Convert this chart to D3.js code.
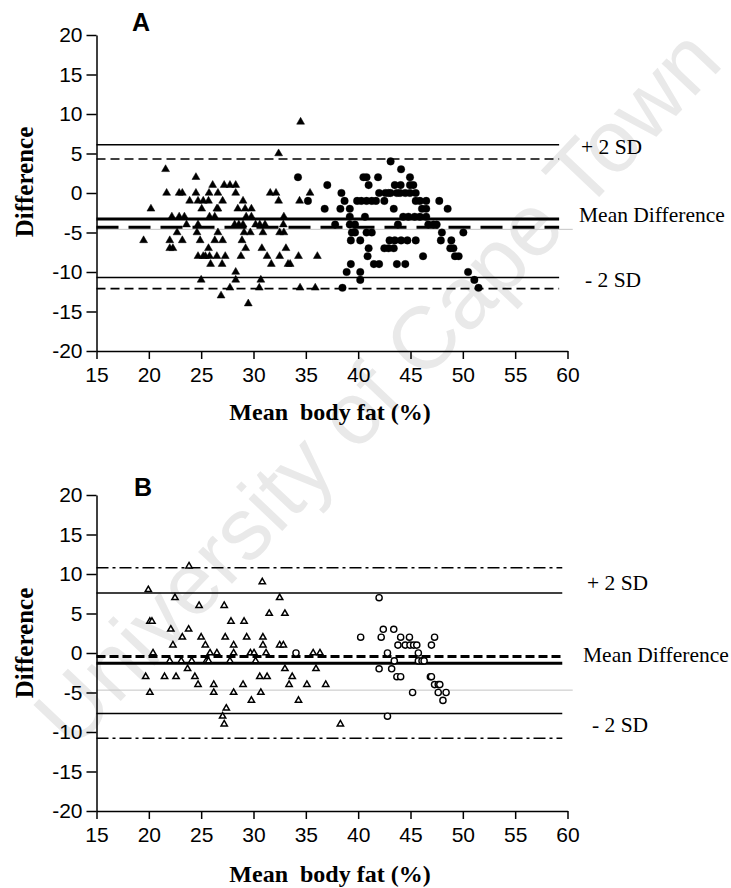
<!DOCTYPE html>
<html>
<head>
<meta charset="utf-8">
<script src="https://cdn.jsdelivr.net/npm/d3@7"></script>
<style>
  html, body { margin: 0; padding: 0; background: #fff; }
  svg { display: block; }
</style>
</head>
<body>
<script>
// ---------------- DATA ----------------
const xTicks = [15, 20, 25, 30, 35, 40, 45, 50, 55, 60];
const yTicks = [-20, -15, -10, -5, 0, 5, 10, 15, 20];
const panelLetters = ["A", "B"];
const xTitle = "Mean  body fat (%)";
const yTitle = "Difference";
const limitLabels = ["+ 2 SD", "Mean Difference", "- 2 SD"];
const watermark = "University of Cape Town";

// Panel A, filled triangles
const aTriX = [34.5, 32.4, 21.6, 24.5,
  26.1, 27.2, 27.75, 28.3,
  21.7, 22.9, 23.2, 24.5, 25.75, 26.6, 28.3, 31.6, 32.15, 35.4,
  23.9, 24.7, 25.2, 25.7, 27.05, 29.0, 32.4, 34.4,
  20.2, 25.05, 26.5, 26.6, 28.5, 29.2, 29.8,
  22.2, 22.9, 23.4, 25.8, 26.3, 29.3, 29.8, 32.9,
  23.6, 24.7, 28.2, 28.6, 29.0, 30.2, 30.6, 31.1, 32.85,
  22.7, 24.6, 26.6, 29.1, 29.7, 30.9, 32.5, 32.9,
  19.5, 22.0, 23.2, 24.9, 26.3, 27.05, 28.9,
  22.0, 22.3, 25.7, 29.25, 30.8, 33.1,
  24.7, 25.2, 25.4, 25.8, 26.5, 27.3, 28.8, 31.3, 32.5, 34.3, 36.1,
  25.9, 27.0, 31.7, 33.3, 33.5,
  28.3,
  25.0, 28.3, 30.7,
  27.75, 30.55, 34.45, 35.9,
  26.9,
  29.5];
const aTriY = [9, 5, 3, 2,
  1, 1, 1, 1,
  0, 0, 0, 0, 0, 0, 0, 0, 0, 0,
  -1, -1, -1, -1, -1, -1, -1, -1,
  -2, -2, -2, -2, -2, -2, -2,
  -3, -3, -3, -3, -3, -3, -3, -3,
  -4, -4, -4, -4, -4, -4, -4, -4, -4,
  -5, -5, -5, -5, -5, -5, -5, -5,
  -6, -6, -6, -6, -6, -6, -6,
  -7, -7, -7, -7, -7, -7,
  -8, -8, -8, -8, -8, -8, -8, -8, -8, -8, -8,
  -9, -9, -9, -9, -9,
  -10,
  -11, -11, -11,
  -12, -12, -12, -12,
  -13,
  -14];

// Panel A, filled circles
const aCirX = [34.25, 43.1, 44.1, 40.5, 40.8, 41.9, 44.95,
  37.05, 41.0, 43.5, 44.06, 44.95, 45.27,
  38.4, 42.0, 42.6, 42.9, 43.1, 43.7, 44.0, 44.5, 44.95, 45.5,
  35.2, 38.7, 39.9, 40.3, 40.8, 41.3, 41.7, 42.5, 45.5, 45.9, 46.5, 47.75,
  36.8, 38.3, 39.2, 43.4, 46.1, 46.5, 48.55,
  39.2, 40.65, 44.3, 44.8, 45.4, 45.9, 46.5,
  37.8, 39.2, 39.7, 43.8, 46.7, 47.2, 47.5,
  39.4, 39.7, 40.8, 41.3, 48.0, 50.05,
  39.3, 40.2, 43.0, 43.5, 44.1, 44.7, 45.5, 47.9, 48.9,
  41.0, 42.5, 42.9, 43.4, 48.8, 49.1,
  40.9, 46.2, 49.25, 49.6,
  39.3, 41.5, 42.0, 43.7, 44.5,
  38.9, 40.2, 50.5,
  40.2, 51.1,
  38.5, 51.5];
const aCirY = [2, 4, 3, 2, 2, 2, 2,
  1, 1, 1, 1, 1, 1,
  0, 0, 0, 0, 0, 0, 0, 0, 0, 0,
  -1, -1, -1, -1, -1, -1, -1, -1, -1, -1, -1, -1,
  -2, -2, -2, -2, -2, -2, -2,
  -3, -3, -3, -3, -3, -3, -3,
  -4, -4, -4, -4, -4, -4, -4,
  -5, -5, -5, -5, -5, -5,
  -6, -6, -6, -6, -6, -6, -6, -6, -6,
  -7, -7, -7, -7, -7, -7,
  -8, -8, -8, -8,
  -9, -9, -9, -9, -9,
  -10, -10, -10,
  -11, -11,
  -12, -12];

// Panel B, open triangles
const bTriX = [23.84, 19.95, 30.84, 22.5, 32.5,
  24.8, 27.2,
  31.5, 33.0,
  20.1, 20.3, 27.85, 29.1,
  22.1, 23.8,
  23.2, 25.0, 27.3, 29.35, 30.9,
  22.3, 25.4, 28.1, 30.9, 32.5, 32.85,
  20.4, 25.85, 26.5, 28.1, 29.7, 30.05, 31.2, 35.7, 36.35,
  22.0, 23.1, 24.1, 25.5, 25.7, 27.75, 30.2,
  23.7, 33.0, 35.97,
  19.7, 21.5, 22.6, 24.4, 30.6, 31.3, 33.7,
  24.7, 26.2, 29.0, 33.4, 35.1, 36.9,
  20.1, 26.2, 28.1, 30.7,
  29.8, 34.3,
  27.4,
  27.05,
  27.2, 38.3];
const bTriY = [11, 8, 9, 7, 7,
  6, 6,
  5, 5,
  4, 4, 4, 4,
  3, 3,
  2, 2, 2, 2, 2,
  1, 1, 1, 1, 1, 1,
  0, 0, 0, 0, 0, 0, 0, 0, 0,
  -1, -1, -1, -1, -1, -1, -1,
  -2, -2, -2,
  -3, -3, -3, -3, -3, -3, -3,
  -4, -4, -4, -4, -4, -4,
  -5, -5, -5, -5,
  -6, -6,
  -7,
  -8,
  -9, -9];

// Panel B, open circles
const bCirX = [42.0, 42.4, 43.4,
  40.24, 42.2, 44.06, 44.9, 47.3,
  43.8, 44.5, 44.95, 45.3, 45.6, 47.0,
  34.06, 42.8, 45.75,
  43.45, 45.75, 46.1, 46.3,
  42.0, 43.2,
  43.7, 44.06, 46.9, 47.0,
  47.3, 47.65, 47.8,
  45.2, 47.65, 48.4,
  48.1,
  42.8];
const bCirY = [7, 3, 3,
  2, 2, 2, 2, 2,
  1, 1, 1, 1, 1, 1,
  0, 0, 0,
  -1, -1, -1, -1,
  -2, -2,
  -3, -3, -3, -3,
  -4, -4, -4,
  -5, -5, -5,
  -6,
  -8];

// Limits of agreement (upper pair, mean pair, lower pair)
const aLimits = [6.1, 4.3, -3.3, -4.35, -10.7, -12.1];
const bLimits = [10.8, 7.6, -0.45, -1.3, -7.65, -10.8];
const aFaint = -4.6;
const bFaint = -4.7;
const limitEndX = [59.2, 59.5];

// ---------------- DRAW ----------------
const W = 731, H = 888;
const svg = d3.select("body").append("svg").attr("width", W).attr("height", H);

// watermark (behind)
svg.append("text")
  .attr("transform", "translate(382,392) rotate(-46.5)")
  .attr("text-anchor", "middle")
  .attr("dominant-baseline", "middle")
  .style("font-family", "'Liberation Sans', Arial, sans-serif")
  .style("font-size", "88px")
  .style("fill", "#e9e9e9")
  .text(watermark);

const x = d3.scaleLinear().domain([15, 60]).range([96.5, 567.5]);
const plainFmt = d => String(d);

const panels = [
  { top: 35, bottom: 351, tri: [aTriX, aTriY], cir: [aCirX, aCirY], limits: aLimits, faint: aFaint,
    styles: ["solidThin", "dashed", "solidThick", "longDash", "solidThin", "dashed"],
    letterY: 31, letterX: 132,
    labelPos: [[581, 154], [579, 222], [585, 287]],
    titleY: 420, ytitleY: 182, filled: true, endX: limitEndX[0] },
  { top: 495, bottom: 811, tri: [bTriX, bTriY], cir: [bCirX, bCirY], limits: bLimits, faint: bFaint,
    styles: ["dashDot", "solidThin", "thickDash", "solidThick", "solidThin", "dashDot"],
    letterY: 496, letterX: 134,
    labelPos: [[587, 590], [583, 662], [592, 732]],
    titleY: 882, ytitleY: 643, filled: false, endX: limitEndX[1] }
];

const lineStyle = {
  solidThin: { w: 1.6, dash: null },
  dashed: { w: 1.6, dash: "9,5" },
  solidThick: { w: 3, dash: null },
  longDash: { w: 3, dash: "22,10" },
  thickDash: { w: 3, dash: "9,4" },
  dashDot: { w: 1.5, dash: "12,4,3,4" }
};

panels.forEach((p, pi) => {
  const y = d3.scaleLinear().domain([-20, 20]).range([p.bottom, p.top]);
  const g = svg.append("g");

  // faint gray line
  g.append("line")
    .attr("x1", x(15)).attr("x2", x(60.5))
    .attr("y1", y(p.faint)).attr("y2", y(p.faint))
    .attr("stroke", "#c4c4c4").attr("stroke-width", 1);

  // limit lines
  p.limits.forEach((v, i) => {
    const s = lineStyle[p.styles[i]];
    g.append("line")
      .attr("x1", x(15)).attr("x2", x(p.endX))
      .attr("y1", y(v)).attr("y2", y(v))
      .attr("stroke", "#000").attr("stroke-width", s.w)
      .attr("stroke-dasharray", s.dash);
  });

  // axes
  const yAxis = d3.axisLeft(y).tickValues(yTicks).tickFormat(plainFmt)
    .tickSize(10).tickSizeOuter(0).tickPadding(4);
  const xAxis = d3.axisBottom(x).tickValues(xTicks).tickFormat(plainFmt)
    .tickSize(8).tickSizeOuter(0).tickPadding(8);
  const gy = g.append("g").attr("transform", `translate(${x(15)},0)`).call(yAxis);
  const gx = g.append("g").attr("transform", `translate(0,${p.bottom})`).call(xAxis);
  [gx, gy].forEach(ax => {
    ax.selectAll("path, line").attr("stroke", "#000").attr("stroke-width", 1.5);
    ax.selectAll("text")
      .style("font-family", "'Liberation Sans', Arial, sans-serif")
      .style("font-size", "21px").attr("fill", "#000");
  });

  // points: triangles
  const triSym = d3.symbol().type(d3.symbolTriangle).size(p.filled ? 27 : 17);
  g.append("g").selectAll("path").data(p.tri[0].map((v, i) => [v, p.tri[1][i]]))
    .join("path")
    .attr("d", triSym)
    .attr("transform", d => `translate(${x(d[0])},${y(d[1])})`)
    .attr("fill", p.filled ? "#000" : "#fff")
    .attr("stroke", "#000")
    .attr("stroke-width", p.filled ? 0.5 : 1.5);

  // points: circles
  g.append("g").selectAll("circle").data(p.cir[0].map((v, i) => [v, p.cir[1][i]]))
    .join("circle")
    .attr("cx", d => x(d[0])).attr("cy", d => y(d[1]))
    .attr("r", p.filled ? 3.8 : 3.1)
    .attr("fill", p.filled ? "#000" : "#fff")
    .attr("stroke", "#000")
    .attr("stroke-width", p.filled ? 0.3 : 1.4);

  // panel letter
  svg.append("text").attr("x", p.letterX).attr("y", p.letterY)
    .style("font-family", "'Liberation Sans', Arial, sans-serif")
    .style("font-weight", "bold").style("font-size", "25px")
    .text(panelLetters[pi]);

  // x title
  svg.append("text").attr("x", 330).attr("y", p.titleY)
    .attr("text-anchor", "middle")
    .style("white-space", "pre")
    .style("font-family", "'Liberation Serif', 'Times New Roman', serif")
    .style("font-weight", "bold").style("font-size", "24px")
    .text(xTitle);

  // y title
  svg.append("text")
    .attr("transform", `translate(33,${p.ytitleY}) rotate(-90)`)
    .attr("text-anchor", "middle")
    .style("font-family", "'Liberation Serif', 'Times New Roman', serif")
    .style("font-weight", "bold").style("font-size", "25px")
    .text(yTitle);

  // right labels
  limitLabels.forEach((t, i) => {
    svg.append("text").attr("x", p.labelPos[i][0]).attr("y", p.labelPos[i][1])
      .style("white-space", "pre")
      .style("font-family", "'Liberation Serif', 'Times New Roman', serif")
      .style("font-size", "21.5px")
      .text(t);
  });
});
</script>
</body>
</html>
